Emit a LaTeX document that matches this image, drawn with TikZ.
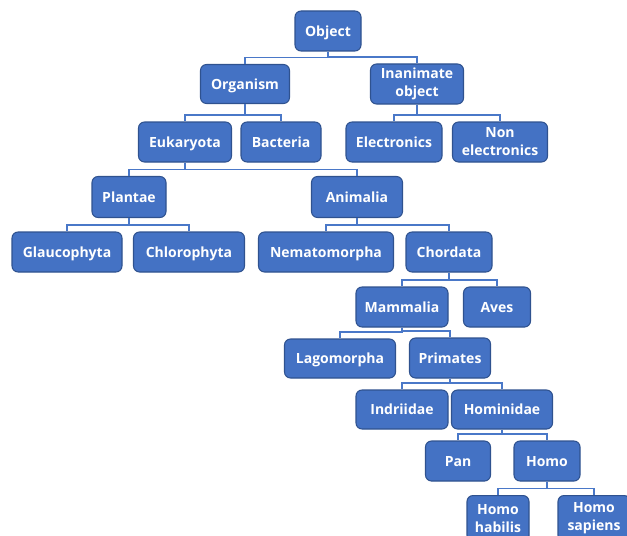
\documentclass[tikz,border=0pt]{standalone}
\usepackage{fontspec}
\setmainfont{Open Sans}
\usetikzlibrary{calc}
\definecolor{boxfill}{HTML}{4472C4}
\definecolor{boxline}{HTML}{2F528F}
\definecolor{conncol}{HTML}{4A78C8}
\tikzset{
  boxbase/.style={draw=boxline, line width=0.8pt, fill=boxfill, rounded corners=4.5pt,
    text=white, font=\bfseries\fontsize{10.5}{13.5}\selectfont, align=center, inner sep=0pt},
  box/.style={boxbase, text height=7.6pt, text depth=0pt},
  box2/.style={boxbase},
  bw/.style={minimum width=#1*0.75pt},
  bh/.style={minimum height=#1*0.75pt},
  conn/.style={draw=conncol, line width=1.1pt}
}
\newcommand{\link}[2]{\draw[conn] (#1.south) |- ($(#2.north)+(0,-6.5)$) -- (#2.north);}
\begin{document}
\begin{tikzpicture}[x=0.75pt,y=-0.75pt]
\useasboundingbox (0,0) rectangle (627,535);
\clip (0,0) rectangle (627,535);
\node[box,bw=66,bh=40] (object) at (328,31) {Object};
\node[box,bw=89,bh=39] (organism) at (245,84) {Organism};
\node[box2,bw=93,bh=40] (inanimate) at (417,84) {Inanimate\\object};
\node[box,bw=93,bh=40] (eukaryota) at (185,142) {Eukaryota};
\node[box,bw=80,bh=40] (bacteria) at (281,142) {Bacteria};
\node[box,bw=96,bh=40] (electronics) at (394,142) {Electronics};
\node[box2,bw=95,bh=40] (nonelec) at (500,142) {Non\\electronics};
\node[box,bw=74,bh=41] (plantae) at (129,197) {Plantae};
\node[box,bw=91,bh=41] (animalia) at (357,197) {Animalia};
\node[box,bw=110,bh=40] (glauco) at (67,252) {Glaucophyta};
\node[box,bw=111,bh=40] (chloro) at (189,252) {Chlorophyta};
\node[box,bw=135,bh=40] (nemato) at (326,252) {Nematomorpha};
\node[box,bw=86,bh=40] (chordata) at (449,252) {Chordata};
\node[box,bw=92,bh=40] (mammalia) at (402,307) {Mammalia};
\node[box,bw=67,bh=40] (aves) at (497,307) {Aves};
\node[box,bw=111,bh=39] (lagomorpha) at (340,358.5) {Lagomorpha};
\node[box,bw=81,bh=40] (primates) at (450,358) {Primates};
\node[box,bw=92,bh=39] (indriidae) at (402,409.5) {Indriidae};
\node[box,bw=101,bh=39] (hominidae) at (502,409.5) {Hominidae};
\node[box,bw=65,bh=40] (pan) at (458,461) {Pan};
\node[box,bw=66,bh=40] (homo) at (547,461) {Homo};
\node[box2,bw=62,bh=46,anchor=north] (habilis) at (498,495) {Homo\\habilis};
\node[box2,bw=72,bh=46,anchor=north] (sapiens) at (594,495) {Homo\\sapiens};
\link{object}{organism}
\link{object}{inanimate}
\link{organism}{eukaryota}
\link{organism}{bacteria}
\link{inanimate}{electronics}
\link{inanimate}{nonelec}
\link{eukaryota}{plantae}
\link{eukaryota}{animalia}
\link{plantae}{glauco}
\link{plantae}{chloro}
\link{animalia}{nemato}
\link{animalia}{chordata}
\link{chordata}{mammalia}
\link{chordata}{aves}
\link{mammalia}{lagomorpha}
\link{mammalia}{primates}
\link{primates}{indriidae}
\link{primates}{hominidae}
\link{hominidae}{pan}
\link{hominidae}{homo}
\link{homo}{habilis}
\link{homo}{sapiens}
\end{tikzpicture}
\end{document}
